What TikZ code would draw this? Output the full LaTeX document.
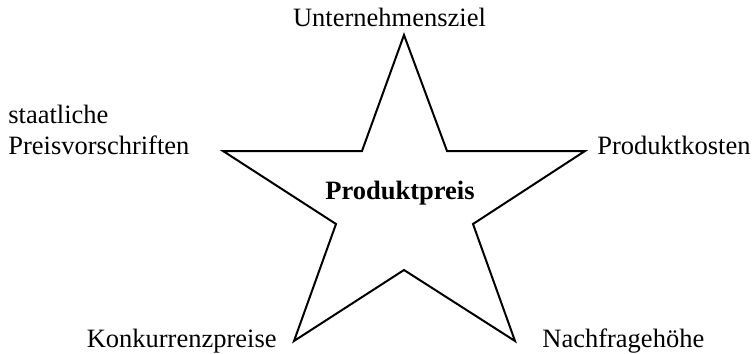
\documentclass[tikz,border=0pt]{standalone}
\usepackage{fontspec}
\setmainfont{Liberation Serif}
\usetikzlibrary{positioning}

\begin{document}
\begin{tikzpicture}[
				x=0.5pt,y=-0.5pt,
				label/.style={inner sep=0pt,font=\fontsize{13.25}{16}\selectfont},
				center/.style={label,font=\fontsize{13.25}{16}\selectfont\bfseries},
				starline/.style={draw,line width=1pt,line join=miter}
				]
				
				\useasboundingbox (0,0) rectangle (754,353);
				
				% Stern
				\draw[starline] (404,35) -- (447,151) -- (585,151) -- (473,224) -- (515,341)
					-- (404,270) -- (294,341) -- (336,224) -- (223,151) -- (362,151) -- cycle;
				
				\node[center,anchor=base] (preis) at (400,199) {Produktpreis};
				
				% Einflussfaktoren
				\node[label,anchor=base] (ziel) at (389.5,27) {Unternehmensziel};
				\node[label,anchor=base west] (staat) at (8,123) {staatliche};
				\node[label,anchor=base west] (vorschr) at (8,155) {Preisvorschriften};
				\node[label,anchor=base west] (kosten) at (597,155) {Produktkosten};
				\node[label,anchor=base east] (konk) at (277,347) {Konkurrenzpreise};
				\node[label,anchor=base west] (nachfr) at (542,347) {Nachfragehöhe};
				
			\end{tikzpicture}
\end{document}
